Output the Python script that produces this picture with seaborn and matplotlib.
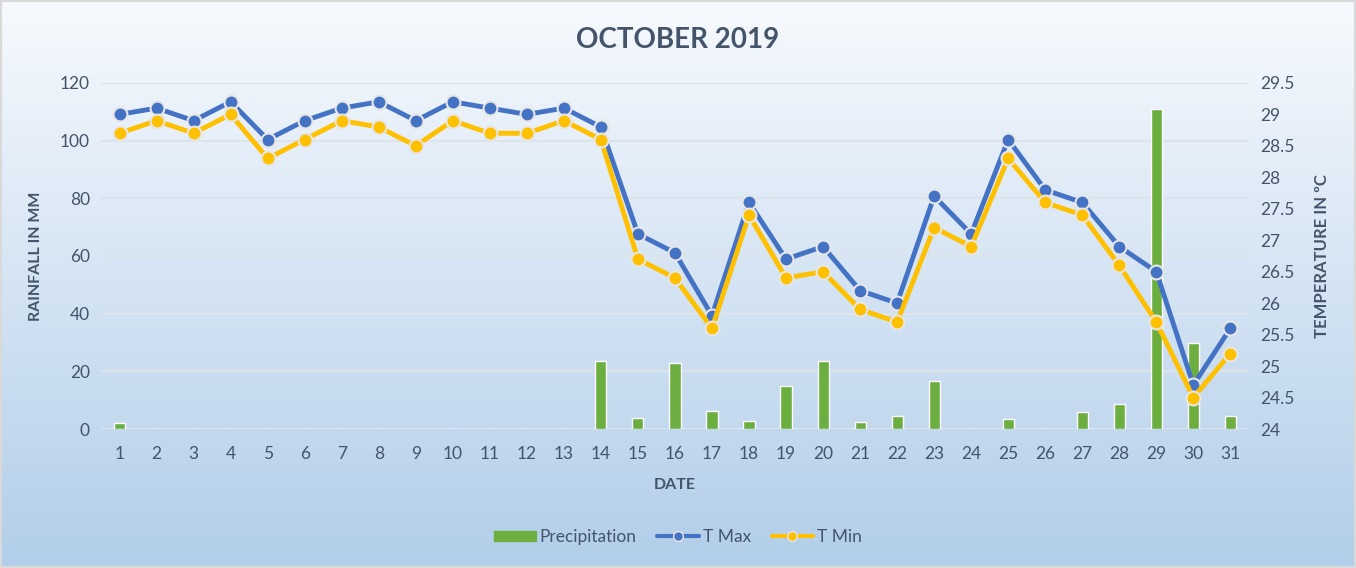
import numpy as np
import pandas as pd
import seaborn as sns
from matplotlib import pyplot as plt
from matplotlib.patches import Patch
from matplotlib.lines import Line2D

## Data
days = list(range(1, 32))
precip = [2, 0, 0, 0, 0, 0, 0, 0, 0, 0, 0, 0, 0, 23.6, 3.8, 22.9, 6.2, 2.8, 14.9, 23.6,
          2.5, 4.5, 16.8, 0, 3.5, 0, 5.9, 8.7, 111, 29.8, 4.5]
t_max = [29.0, 29.1, 28.9, 29.2, 28.6, 28.9, 29.1, 29.2, 28.9, 29.2, 29.1, 29.0, 29.1, 28.8,
         27.1, 26.8, 25.8, 27.6, 26.7, 26.9, 26.2, 26.0, 27.7, 27.1, 28.6, 27.8, 27.6, 26.9,
         26.5, 24.7, 25.6]
t_min = [28.7, 28.9, 28.7, 29.0, 28.3, 28.6, 28.9, 28.8, 28.5, 28.9, 28.7, 28.7, 28.9, 28.6,
         26.7, 26.4, 25.6, 27.4, 26.4, 26.5, 25.9, 25.7, 27.2, 26.9, 28.3, 27.6, 27.4, 26.6,
         25.7, 24.5, 25.2]

df = pd.DataFrame({'day': days, 'precip': precip, 'tmax': t_max, 'tmin': t_min})
df['pos'] = np.arange(len(df))

sns.set_theme(style='white')
plt.rcParams['font.family'] = ['Lato', 'DejaVu Sans']

text_col = '#44546a'
green = '#6cae40'
blue = '#4472c4'
gold = '#ffc000'

fig = plt.figure(figsize=(13.56, 5.68), dpi=100)

## gradient background
bg = fig.add_axes([0, 0, 1, 1], zorder=-10)
top = np.array([247, 250, 254]) / 255
bot = np.array([178, 206, 233]) / 255
t = np.linspace(0, 1, 256)[:, None]
grad = (top * (1 - t) + bot * t)[:, None, :]
bg.imshow(np.repeat(grad, 2, axis=1), aspect='auto', extent=[0, 1, 0, 1])
bg.axis('off')
bg.add_patch(plt.Rectangle((0.001, 0.002), 0.998, 0.996, fill=False, edgecolor='#d9d9d9',
                           lw=1.5, transform=bg.transAxes))

ax = fig.add_axes([0.0745, 0.2447, 0.8465, 0.6093])
ax.patch.set_alpha(0)
sns.barplot(data=df, x='pos', y='precip', color=green, width=0.3, saturation=1, ax=ax, zorder=2)
ax.set_ylim(0, 120)
ax.set_yticks(range(0, 121, 20))
ax.set_xlim(-0.5, 30.5)
ax.set_xticks(df['pos'])
ax.set_xticklabels(days)
ax.yaxis.grid(True, color='#dce3ea', lw=1.5, zorder=0)
ax.set_axisbelow(True)
for s in ax.spines.values():
    s.set_visible(False)
ax.tick_params(axis='y', length=0, labelsize=12.5, colors=text_col, pad=8)
ax.tick_params(axis='x', length=0, labelsize=12.5, colors=text_col, pad=12)
ax.set_xlabel('DATE', fontsize=11.5, fontweight='bold', color=text_col, labelpad=12)
ax.set_ylabel('RAINFALL IN MM', fontsize=11.5, fontweight='bold', color=text_col, labelpad=12)

ax2 = ax.twinx()
mk = dict(marker='o', markersize=10, markeredgecolor='#e6e6e6', markeredgewidth=1.5)
sns.lineplot(data=df, x='pos', y='tmax', color=blue, lw=3.5, ax=ax2, **mk)
sns.lineplot(data=df, x='pos', y='tmin', color=gold, lw=3.5, ax=ax2, **mk)
ax2.set_ylim(24, 29.5)
ax2.set_yticks(np.arange(24, 29.51, 0.5))
ax2.set_yticklabels(['%g' % v for v in np.arange(24, 29.51, 0.5)])
ax2.set_xlim(-0.5, 30.5)
for s in ax2.spines.values():
    s.set_visible(False)
ax2.tick_params(axis='y', length=0, labelsize=12.5, colors=text_col, pad=8)
ax2.set_ylabel('TEMPERATURE IN ºC', fontsize=12, fontweight='bold', color=text_col, labelpad=14)
ax2.grid(False)

fig.text(0.5, 0.93, 'OCTOBER 2019', ha='center', va='center', fontsize=20,
         fontweight='bold', color=text_col)

mk_leg = dict(marker='o', markersize=7, markeredgecolor='#e6e6e6', markeredgewidth=1)
handles = [Patch(color=green),
           Line2D([], [], color=blue, lw=3, **mk_leg),
           Line2D([], [], color=gold, lw=3, **mk_leg)]
fig.legend(handles, ['Precipitation', 'T Max', 'T Min'], loc='center', ncol=3,
           bbox_to_anchor=(0.5, 0.055), frameon=False, fontsize=12.5, labelcolor=text_col,
           handlelength=2.4, handleheight=0.5, columnspacing=1.2, handletextpad=0.2)

fig.savefig('out.png', dpi=100)
